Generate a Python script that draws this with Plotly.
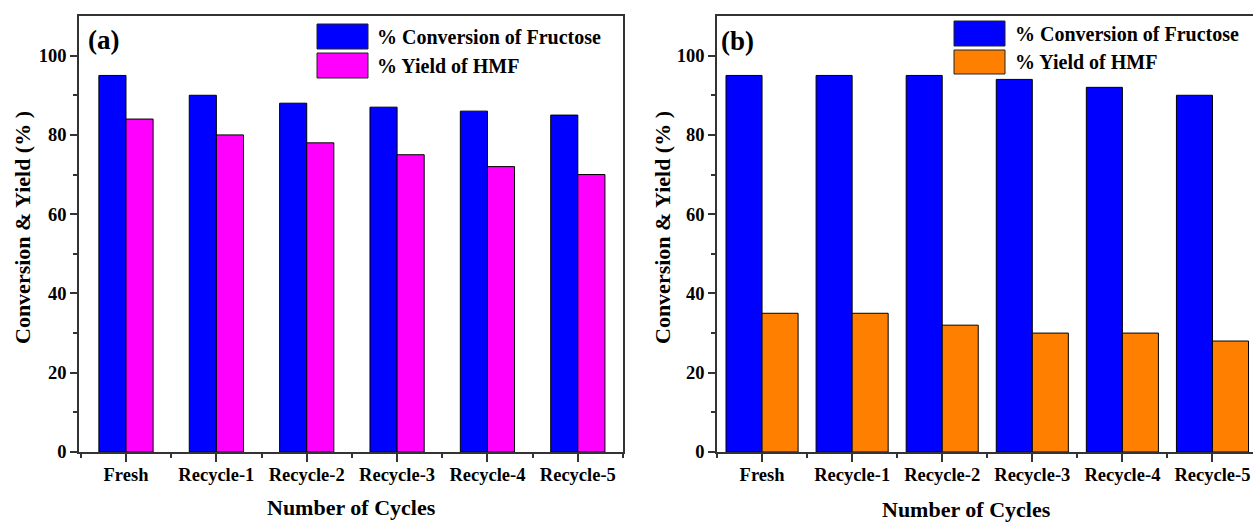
import numpy as np
import plotly.graph_objects as go

# ---- data ----
cycles = ["Fresh", "Recycle-1", "Recycle-2", "Recycle-3", "Recycle-4", "Recycle-5"]
conversion_a = [95, 90, 88, 87, 86, 85]
yield_a = [84, 80, 78, 75, 72, 70]
conversion_b = [95, 95, 95, 94, 92, 90]
yield_b = [35, 35, 32, 30, 30, 28]
series_names = ["% Conversion of Fructose", "% Yield of HMF"]
panel_labels = ["(a)", "(b)"]
y_tick_values = [0, 20, 40, 60, 80, 100]
x_title = "Number of Cycles"
y_title = "Conversion & Yield (% )"

# ---- styling ----
W, H = 1253, 522
FONT = "Liberation Serif"
AXIS_COLOR = "#333333"
BLUE = "#0000FF"
MAGENTA = "#FF00FF"
ORANGE = "#FF8000"

pos = np.arange(len(cycles))


def px_x(v):
    return v / W


def px_y(v):
    return 1 - v / H


fig = go.Figure()

# panel (a): narrow bars
fig.add_trace(go.Bar(x=pos, y=conversion_a, width=0.3, offset=-0.3, name=series_names[0],
                     marker=dict(color=BLUE, line=dict(color="black", width=1)),
                     xaxis="x", yaxis="y"))
fig.add_trace(go.Bar(x=pos, y=yield_a, width=0.3, offset=0.0, name=series_names[1],
                     marker=dict(color=MAGENTA, line=dict(color="black", width=1)),
                     xaxis="x", yaxis="y"))
# panel (b): wider bars
fig.add_trace(go.Bar(x=pos, y=conversion_b, width=0.4, offset=-0.4, name=series_names[0],
                     marker=dict(color=BLUE, line=dict(color="black", width=1)),
                     xaxis="x2", yaxis="y2"))
fig.add_trace(go.Bar(x=pos, y=yield_b, width=0.4, offset=0.0, name=series_names[1],
                     marker=dict(color=ORANGE, line=dict(color="black", width=1)),
                     xaxis="x2", yaxis="y2"))

tick_font = dict(family=FONT, size=18.5, color="black", weight="bold")
x_minor = np.arange(-0.5, len(cycles) + 0.5, 1.0)
y_minor = np.arange(10, 110, 20)


def x_axis(domain, rng, anchor):
    return dict(domain=domain, range=rng, anchor=anchor, automargin=False,
                tickmode="array", tickvals=pos, ticktext=cycles, ticklabelstandoff=-3,
                ticks="outside", ticklen=8, tickwidth=1.5, tickcolor=AXIS_COLOR,
                showline=True, linecolor=AXIS_COLOR, linewidth=1.5, mirror=True,
                showgrid=False, zeroline=False, tickfont=tick_font,
                minor=dict(tickmode="array", tickvals=x_minor, ticks="outside",
                           ticklen=4, tickwidth=1.5, tickcolor=AXIS_COLOR))


def y_axis(mirror, anchor):
    return dict(domain=[px_y(452), px_y(16)], range=[0, 110], anchor=anchor, automargin=False,
                tickmode="array", tickvals=y_tick_values, ticks="outside", ticklen=7,
                tickwidth=1.5, tickcolor=AXIS_COLOR, showline=True, linecolor=AXIS_COLOR,
                linewidth=1.5, mirror=mirror, showgrid=False, zeroline=False, tickfont=tick_font,
                minor=dict(tickmode="array", tickvals=y_minor, ticks="outside",
                           ticklen=4, tickwidth=1.5, tickcolor=AXIS_COLOR))


shapes = []
annotations = []

# legends drawn as large swatches with bold labels
legend_specs = [
    # swatch left/right, swatch rows (top, bottom), text x, text rows
    (317, 368, [(24, 49), (53, 78)], 375, [37, 66], [BLUE, MAGENTA]),
    (954, 1005, [(21, 46), (50, 74)], 1013, [34, 62], [BLUE, ORANGE]),
]
for x0, x1, rows, tx, trows, colors in legend_specs:
    for (t, b), ty, col, name in zip(rows, trows, colors, series_names):
        shapes.append(dict(type="rect", xref="paper", yref="paper",
                           x0=px_x(x0), x1=px_x(x1), y0=px_y(b), y1=px_y(t),
                           fillcolor=col, line=dict(color="#222222", width=1)))
        annotations.append(dict(text=name, xref="paper", yref="paper", x=px_x(tx), y=px_y(ty),
                                xanchor="left", yanchor="middle", showarrow=False,
                                font=dict(family=FONT, size=20, color="black", weight="bold")))

# panel letters
for lbl, (lx, ly) in zip(panel_labels, [(86, 40), (719, 41)]):
    annotations.append(dict(text=lbl, xref="paper", yref="paper", x=px_x(lx), y=px_y(ly),
                            xanchor="left", yanchor="middle", showarrow=False,
                            font=dict(family=FONT, size=27, color="black", weight="bold")))

# axis titles
for cx, cy in [(351, 507), (966, 509)]:
    annotations.append(dict(text=x_title, xref="paper", yref="paper", x=px_x(cx), y=px_y(cy),
                            xanchor="center", yanchor="middle", showarrow=False,
                            font=dict(family=FONT, size=22, color="black", weight="bold")))
for cx, cy in [(22, 228), (662, 228)]:
    annotations.append(dict(text=y_title, xref="paper", yref="paper", x=px_x(cx), y=px_y(cy),
                            xanchor="center", yanchor="middle", showarrow=False, textangle=-90,
                            font=dict(family=FONT, size=22, color="black", weight="bold")))

fig.update_layout(
    width=W, height=H, margin=dict(l=0, r=0, t=0, b=0, autoexpand=False),
    paper_bgcolor="white", plot_bgcolor="white",
    barmode="overlay", showlegend=False,
    xaxis=x_axis([px_x(79), px_x(623)], [-0.52, 5.5], "y"),
    xaxis2=x_axis([px_x(717), 1.0], [-0.5, 5.45], "y2"),
    yaxis=y_axis(True, "x"),
    yaxis2=y_axis(False, "x2"),
    shapes=shapes, annotations=annotations,
)

fig.write_html("out.html")
